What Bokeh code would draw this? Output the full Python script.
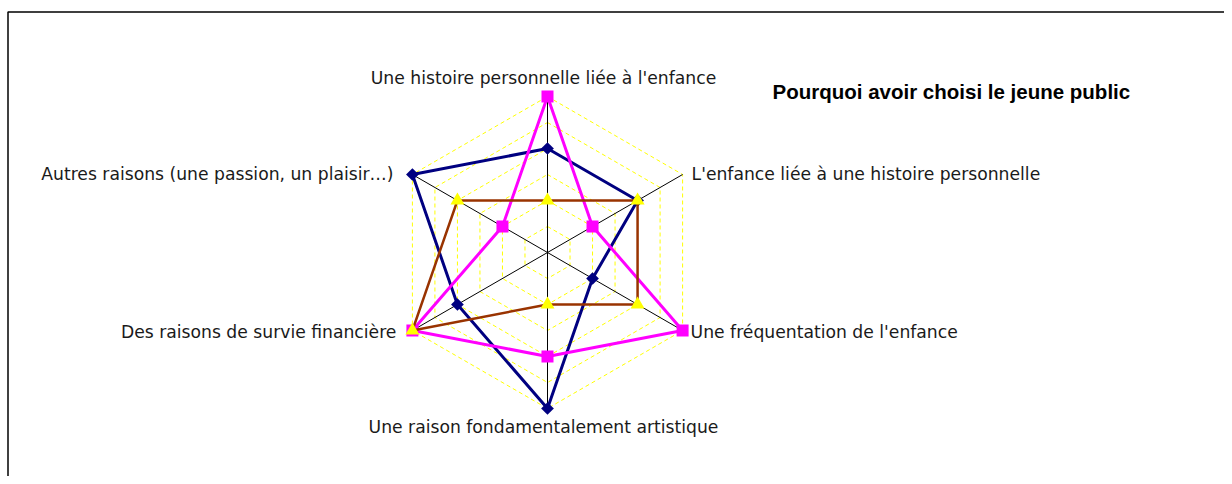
import numpy as np
from bokeh.plotting import figure
from bokeh.models import Range1d, ColumnDataSource
from bokeh.core.properties import value
from bokeh.embed import file_html
from bokeh.resources import INLINE

# ---- data ----
categories = [
    "Une histoire personnelle liée à l'enfance",
    "L'enfance liée à une histoire personnelle",
    "Une fréquentation de l'enfance",
    "Une raison fondamentalement artistique",
    "Des raisons de survie financière",
    "Autres raisons (une passion, un plaisir…)",
]
serie_1 = [4, 4, 2, 6, 4, 6]   # navy, diamonds
serie_2 = [6, 2, 6, 4, 6, 2]   # magenta, squares
serie_3 = [2, 4, 4, 2, 6, 4]   # brown, yellow triangles
grid_levels = [1, 2, 3, 4, 5, 6]
max_value = 6
title = "Pourquoi avoir choisi le jeune public"

# ---- layout ----
W, H = 1224, 476
PX = 26.0                 # pixels per unit
CX, CY = 547.0, 252.0     # centre of radar in figure pixels (from top-left)

p = figure(width=W, height=H, output_backend="svg", toolbar_location=None,
           x_range=Range1d(-CX / PX, (W - CX) / PX),
           y_range=Range1d(-(H - CY) / PX, CY / PX),
           min_border=0, min_border_left=0, min_border_right=0,
           min_border_top=0, min_border_bottom=0)
p.axis.visible = False
p.xgrid.visible = False
p.ygrid.visible = False
p.outline_line_color = None
p.background_fill_color = "white"
p.border_fill_color = "white"

n = len(categories)
theta = np.arange(n) * 2 * np.pi / n
sx, sy = np.sin(theta), np.cos(theta)

def polar(vals):
    v = np.asarray(vals, dtype=float)
    return list(v * sx), list(v * sy)

# border of chart area (top and left edges)
bx = (7.5 - CX) / PX
by = (CY - 11.5) / PX
p.line([bx, bx, (W + 10 - CX) / PX], [-(H + 10 - CY) / PX, by, by],
       line_color="black", line_width=1.5)

# grid hexagons
for lv in grid_levels:
    gx, gy = polar([lv] * n)
    p.line(gx + [gx[0]], gy + [gy[0]], line_color="#FFFF00",
           line_width=1, line_dash="4 3")

# spokes
ox, oy = polar([max_value] * n)
p.multi_line([[0, x] for x in ox], [[0, y] for y in oy],
             line_color="black", line_width=1)

# series
def draw(vals, color, marker, msize, fill, lw, angle=0.0):
    x, y = polar(vals)
    p.line(x + [x[0]], y + [y[0]], line_color=color, line_width=lw)
    p.scatter(x, y, marker=marker, size=msize, fill_color=fill,
              line_color=None, angle=angle)

draw(serie_1, "#000080", "square", 9, "#000080", 3, angle=np.pi / 4)
draw(serie_2, "#FF00FF", "square", 12, "#FF00FF", 3)
draw(serie_3, "#993300", "triangle", 14, "#FFFF00", 2.5)

# category labels
aligns = ["center", "left", "left", "center", "right", "right"]
xoffs = [-4, 9, 8, -4, -16, -19]
yoffs = [-19, -1, 1, 18, 1, -1]
src = ColumnDataSource(dict(x=ox, y=oy, t=categories, a=aligns,
                            xo=xoffs, yo=yoffs))
p.text(x="x", y="y", text="t", text_align="a", x_offset="xo", y_offset="yo",
       source=src, text_baseline="middle", text_font=value("DejaVu Sans"),
       text_font_size="17.2px", text_color="#1a1a1a")

# title
p.text(x=[(772 - CX) / PX], y=[(CY - 91) / PX], text=[title],
       text_align="left", text_baseline="middle",
       text_font=value("Liberation Sans"), text_font_style="bold",
       text_font_size="20.5px", text_color="black")

open("out.html", "w").write(file_html(p, INLINE))
